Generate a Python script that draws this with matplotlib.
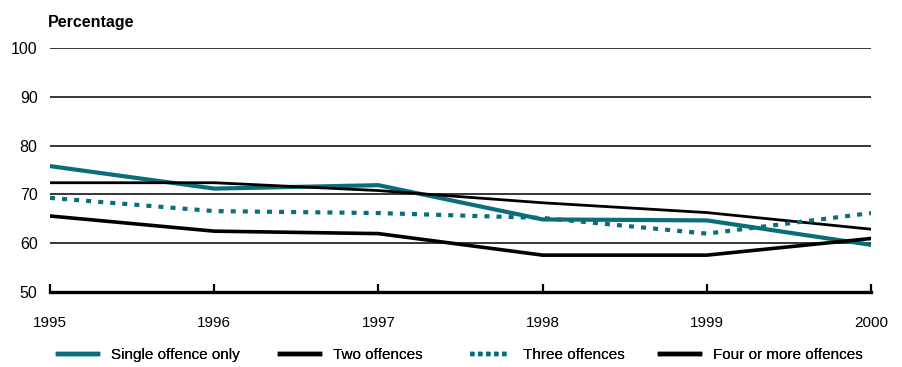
import matplotlib
matplotlib.use("Agg")
import matplotlib.pyplot as plt
from matplotlib.lines import Line2D

years = [1995, 1996, 1997, 1998, 1999, 2000]
single_offence = [75.8, 71.2, 71.9, 64.9, 64.7, 59.7]
two_offences = [72.4, 72.4, 70.8, 68.3, 66.3, 62.9]
three_offences = [69.3, 66.6, 66.2, 65.2, 62.0, 66.2]
four_or_more = [65.6, 62.5, 62.0, 57.6, 57.6, 61.0]
y_ticks = [50, 60, 70, 80, 90, 100]
series_names = ["Single offence only", "Two offences", "Three offences", "Four or more offences"]

teal = "#0a6e7a"

plt.rcParams["font.family"] = ["Liberation Sans", "DejaVu Sans"]

fig = plt.figure(figsize=(9.03, 3.67), dpi=100)
ax = fig.add_axes([0.0554, 0.2035, 0.9092, 0.6665])

# horizontal reference lines
for v in y_ticks[1:]:
    ax.axhline(v, color="black", lw=1.1, zorder=1)

ax.plot(years, single_offence, color=teal, lw=3.0, zorder=3)
ax.plot(years, two_offences, color="black", lw=2.0, zorder=3)
ax.plot(years, three_offences, color=teal, lw=3.0, linestyle=(0, (1.2, 1.7)), zorder=3)
ax.plot(years, four_or_more, color="black", lw=2.6, zorder=3)

ax.set_xlim(1995, 2000)
ax.set_ylim(50, 100)
ax.set_yticks(y_ticks)
ax.set_xticks(years)
ax.set_xticklabels([str(y) for y in years], fontsize=11)
ax.set_yticklabels([str(v) for v in y_ticks], fontsize=11.5)

for s in ["top", "right", "left"]:
    ax.spines[s].set_visible(False)
ax.spines["bottom"].set_linewidth(2.4)
ax.spines["bottom"].set_color("black")
ax.tick_params(axis="x", direction="in", length=6, width=1.6, pad=17)
ax.tick_params(axis="y", length=0, pad=9)

fig.text(0.053, 0.94, "Percentage", fontsize=11.5, fontweight="bold", ha="left", va="center")

handles = [
    Line2D([], [], color=teal, lw=3.2),
    Line2D([], [], color="black", lw=3.2),
    Line2D([], [], color=teal, lw=3.2, linestyle=(0, (1.0, 0.8))),
    Line2D([], [], color="black", lw=3.2),
]
legend_x = [58, 280, 470, 660]
for h, name, px in zip(handles, series_names, legend_x):
    leg = fig.legend([h], [name], loc="center left", bbox_to_anchor=(px / 903, 0.032),
                     frameon=False, fontsize=11, handlelength=2.6, handletextpad=0.85,
                     borderpad=0, borderaxespad=0)
    fig.add_artist(leg)

fig.savefig("out.png", dpi=100)
